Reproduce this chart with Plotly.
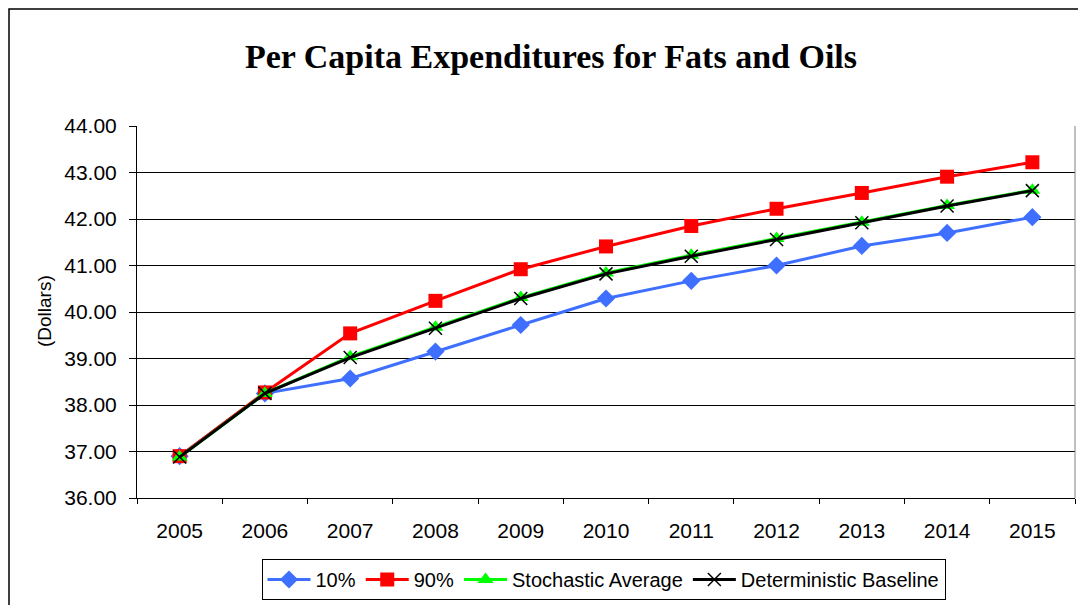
import plotly.graph_objects as go

years = ["2005", "2006", "2007", "2008", "2009", "2010", "2011", "2012", "2013", "2014", "2015"]
p10 = [36.90, 38.25, 38.57, 39.15, 39.72, 40.29, 40.67, 41.00, 41.42, 41.70, 42.04]
p90 = [36.90, 38.27, 39.54, 40.24, 40.92, 41.41, 41.85, 42.22, 42.56, 42.91, 43.22]
stoch_avg = [36.88, 38.25, 39.04, 39.67, 40.31, 40.84, 41.22, 41.58, 41.93, 42.29, 42.62]
det_base = [36.88, 38.25, 39.02, 39.65, 40.29, 40.82, 41.20, 41.56, 41.92, 42.28, 42.61]

W, H = 1086, 605
L, R, T, B = 129, 19, 118, 115
PW, PH = W - L - R, H - T - B

fig = go.Figure()
fig.add_trace(go.Scatter(x=years, y=p10, name="10%", mode="lines+markers",
                         line=dict(color="#3F6FFF", width=3),
                         marker=dict(symbol="diamond", size=14, color="#3F6FFF")))
fig.add_trace(go.Scatter(x=years, y=p90, name="90%", mode="lines+markers",
                         line=dict(color="#FF0000", width=3),
                         marker=dict(symbol="square", size=14, color="#FF0000")))
fig.add_trace(go.Scatter(x=years, y=stoch_avg, name="Stochastic Average", mode="lines+markers",
                         line=dict(color="#00FF00", width=3),
                         marker=dict(symbol="triangle-up", size=14, color="#00FF00")))
fig.add_trace(go.Scatter(x=years, y=det_base, name="Deterministic Baseline", mode="lines+markers",
                         line=dict(color="#000000", width=3),
                         marker=dict(symbol="x-thin-open", size=13, color="#000000",
                                     line=dict(color="#000000", width=1.5))))

fig.update_layout(
    width=W, height=H,
    paper_bgcolor="white", plot_bgcolor="white",
    margin=dict(l=L, r=R, t=T, b=B),
    font=dict(family="Liberation Sans, Arial, sans-serif", size=20, color="black"),
    title=dict(text="<b>Per Capita Expenditures for Fats and Oils</b>",
               font=dict(family="Liberation Serif, Times New Roman, serif", size=34, color="black"),
               x=543 / W, xanchor="center", y=1 - 48 / H, yanchor="middle"),
    showlegend=True,
    legend=dict(orientation="h", x=595.5 / W, xanchor="center", xref="container",
                y=1 - 571.5 / H, yref="container", yanchor="middle",
                bordercolor="black", borderwidth=1, bgcolor="white",
                font=dict(size=20), itemwidth=43, tracegroupgap=0),
)

fig.update_xaxes(type="category", range=[-0.5, 10.5], tickson="boundaries", ticks="outside",
                 ticklen=5, tickcolor="black", showline=True, linecolor="black", linewidth=1,
                 showgrid=False, tickfont=dict(size=21), ticklabelstandoff=14)
fig.update_yaxes(range=[36, 44], dtick=1, tickformat=".2f", ticks="outside", ticklen=7,
                 tickcolor="black", showline=True, linecolor="black", linewidth=1,
                 showgrid=True, gridcolor="black", gridwidth=1, zeroline=False,
                 tickfont=dict(size=21), ticklabelstandoff=8)

# plot-area right border (gray)
fig.add_shape(type="line", xref="paper", yref="paper", x0=1, x1=1, y0=0, y1=1,
              line=dict(color="#808080", width=1))
# chart outer border (left and top edges visible)
fig.add_shape(type="rect", xref="paper", yref="paper",
              x0=-(L - 1) / PW, x1=1.1, y0=-0.5, y1=1 + (T - 1) / PH,
              line=dict(color="black", width=1.5), layer="below")

fig.add_annotation(text="(Dollars)", xref="paper", yref="paper",
                   x=(36 - L) / PW, y=1 - (303 - T) / PH, showarrow=False, textangle=-90,
                   font=dict(size=19), xanchor="center", yanchor="middle")

fig.write_html("out.html")
